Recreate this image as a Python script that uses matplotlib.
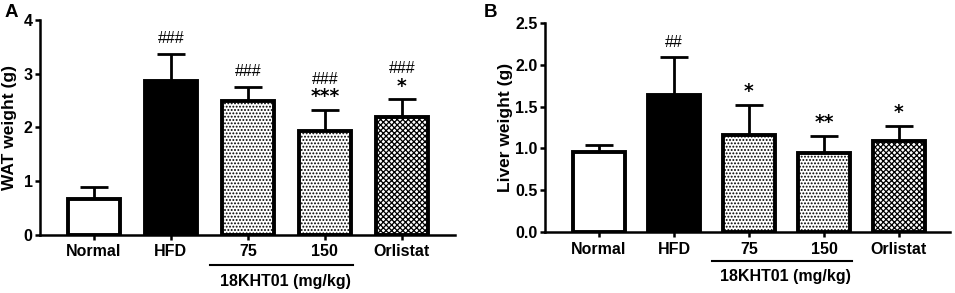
import matplotlib
matplotlib.use("Agg")
import matplotlib.pyplot as plt
import numpy as np

plt.rcParams['font.family'] = ['Liberation Sans', 'DejaVu Sans']
plt.rcParams['hatch.linewidth'] = 0.9

categories = ["Normal", "HFD", "75", "150", "Orlistat"]
wat_mean = [0.67, 2.86, 2.49, 1.93, 2.20]
wat_err = [0.22, 0.51, 0.27, 0.40, 0.32]
wat_hash = ["", "###", "###", "###", "###"]
wat_star = ["", "", "", "***", "*"]

liver_mean = [0.96, 1.64, 1.16, 0.95, 1.09]
liver_err = [0.08, 0.45, 0.36, 0.20, 0.18]
liver_hash = ["", "##", "", "", ""]
liver_star = ["", "", "*", "**", "*"]

group_label = "18KHT01 (mg/kg)"

faces = ["white", "black", "white", "white", "white"]
hatches = [None, None, ".....", ".....", "xxxxxx"]

fig = plt.figure(figsize=(9.55, 2.93), dpi=100)
axA = fig.add_axes([0.0419, 0.198, 0.4346, 0.734])
axB = fig.add_axes([0.5707, 0.208, 0.424, 0.713])

def draw(ax, means, errs, hashes, stars, ylim, yticks, ylabel, fmt, xlim, width, labx):
    x = np.arange(len(categories))
    for i in range(len(categories)):
        ax.errorbar(x[i], means[i], yerr=[[0], [errs[i]]], fmt='none', ecolor='black',
                    elinewidth=2, capsize=10, capthick=2, zorder=1)
        b = ax.bar(x[i], means[i], width=width, color=faces[i], edgecolor='black',
                   linewidth=2.8, zorder=2)
        if hatches[i]:
            b[0].set_hatch(hatches[i])
    for i in range(len(categories)):
        top = means[i] + errs[i]
        if stars[i]:
            ax.annotate(stars[i], (x[i], top), xytext=(0, 9.5), textcoords='offset points',
                        ha='center', va='center', fontsize=13.5, fontweight='bold',
                        family='DejaVu Sans')
            if hashes[i]:
                ax.annotate(hashes[i], (x[i], top), xytext=(0, 22), textcoords='offset points',
                            ha='center', va='center', fontsize=11.5)
        elif hashes[i]:
            ax.annotate(hashes[i], (x[i], top), xytext=(0, 11), textcoords='offset points',
                        ha='center', va='center', fontsize=11.5)
    ax.set_ylim(*ylim)
    ax.set_xlim(*xlim)
    ax.set_yticks(yticks)
    ax.set_yticklabels([fmt.format(v) for v in yticks])
    ax.set_xticks(x)
    ax.set_xticklabels(categories)
    for lab in ax.get_xticklabels() + ax.get_yticklabels():
        lab.set_fontweight('bold')
        lab.set_fontsize(11.5)
    ax.set_ylabel(ylabel, fontsize=12.5, fontweight='bold')
    ax.yaxis.set_label_coords(labx, 0.5)
    ax.spines['top'].set_visible(False)
    ax.spines['right'].set_visible(False)
    ax.spines['left'].set_linewidth(1.8)
    ax.spines['bottom'].set_linewidth(1.8)
    ax.tick_params(axis='both', width=1.8, length=3.8, direction='out')
    ax.tick_params(axis='x', pad=3)
    ax.tick_params(axis='y', pad=1.5)
    # bracket for dose groups
    trans = ax.get_xaxis_transform()
    ax.plot([1.51, 3.37], [-0.14, -0.14], transform=trans, color='black', lw=1.5, clip_on=False)
    ax.text(2.49, -0.215, group_label, transform=trans, ha='center', va='center',
            fontsize=11.5, fontweight='bold')

draw(axA, wat_mean, wat_err, wat_hash, wat_star, (0, 4), [0, 1, 2, 3, 4],
     "WAT weight (g)", "{:.0f}", (-0.70, 4.69), 0.675, -0.055)
draw(axB, liver_mean, liver_err, liver_hash, liver_star, (0, 2.5), [0, 0.5, 1.0, 1.5, 2.0, 2.5],
     "Liver weight (g)", "{:.1f}", (-0.72, 4.68), 0.69, -0.079)

fig.text(0.005, 0.985, "A", fontsize=13.5, fontweight='bold', va='top', ha='left')
fig.text(0.507, 0.985, "B", fontsize=13.5, fontweight='bold', va='top', ha='left')

fig.savefig("out.png", dpi=100)
